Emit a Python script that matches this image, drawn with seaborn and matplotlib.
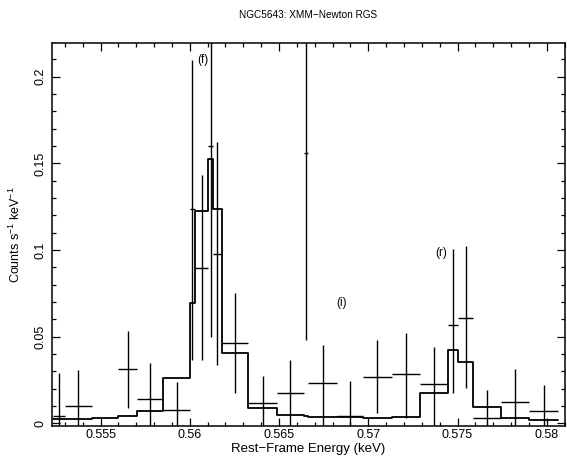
import numpy as np
import pandas as pd
import matplotlib
matplotlib.use("Agg")
import matplotlib.pyplot as plt
import seaborn as sns
from matplotlib.ticker import MultipleLocator, FixedLocator, FixedFormatter

# ---- data ----
model_edges = [0.55234, 0.55301, 0.55451, 0.55600, 0.55703, 0.55852, 0.56001,
               0.56029, 0.56104, 0.56129, 0.56179, 0.56328, 0.56487, 0.56640,
               0.56664, 0.56823, 0.56972, 0.57131, 0.57290, 0.57449, 0.57505,
               0.57585, 0.57742, 0.57901, 0.58065]
model_counts = [0.0023, 0.0023, 0.0033, 0.0044, 0.0073, 0.0260, 0.0692, 0.1227,
                0.1523, 0.1240, 0.0404, 0.0087, 0.0048, 0.0042, 0.0035, 0.0038,
                0.0029, 0.0038, 0.0173, 0.0423, 0.0356, 0.0096, 0.0029, 0.0019]

data_lo = [0.55234, 0.55301, 0.55600, 0.55703, 0.55852, 0.56001, 0.56029, 0.56104,
           0.56129, 0.56179, 0.56328, 0.56487, 0.56640, 0.56664, 0.56823, 0.56972,
           0.57131, 0.57290, 0.57449, 0.57505, 0.57585, 0.57742, 0.57901]
data_hi = [0.55301, 0.55451, 0.55703, 0.55852, 0.56001, 0.56029, 0.56104, 0.56129,
           0.56179, 0.56328, 0.56487, 0.56640, 0.56664, 0.56823, 0.56972, 0.57131,
           0.57290, 0.57449, 0.57505, 0.57585, 0.57742, 0.57901, 0.58065]
data_counts = [0.0040, 0.0101, 0.0313, 0.0140, 0.0078, 0.1240, 0.0899, 0.1600,
               0.0977, 0.0462, 0.0119, 0.0177, 0.1560, 0.0231, 0.0044, 0.0269,
               0.0285, 0.0227, 0.0570, 0.0610, 0.0029, 0.0125, 0.0071]
err_upper = [0.0290, 0.0309, 0.0535, 0.0347, 0.0241, 0.2096, 0.1433, 0.3000,
             0.1625, 0.0753, 0.0273, 0.0365, 0.3000, 0.0452, 0.0246, 0.0481,
             0.0523, 0.0442, 0.1004, 0.1025, 0.0192, 0.0312, 0.0221]
err_lower = [-0.003, -0.003, 0.0089, -0.003, -0.003, 0.0366, 0.0366, 0.0500,
             0.0337, 0.0176, -0.003, -0.003, 0.0480, -0.003, -0.003, 0.0058,
             0.0029, -0.003, 0.0173, 0.0206, -0.003, -0.003, -0.003]

xticks = [0.555, 0.56, 0.565, 0.57, 0.575, 0.58]
xtick_labels = ["0.555", "0.56", "0.565", "0.57", "0.575", "0.58"]
yticks = [0, 0.05, 0.1, 0.15, 0.2]
ytick_labels = ["0", "0.05", "0.1", "0.15", "0.2"]

line_labels = ["(f)", "(i)", "(r)"]
line_x = [0.56071, 0.56851, 0.57406]
line_y = [0.2095, 0.0693, 0.0981]

title = "NGC5643: XMM\u2212Newton RGS"
xlabel = "Rest\u2212Frame Energy (keV)"
ylabel = "Counts s$^{-1}$ keV$^{-1}$"

# ---- style ----
sns.set_theme(style="ticks")
plt.rcParams['font.family'] = ['Liberation Sans', 'DejaVu Sans']
plt.rcParams['mathtext.default'] = 'regular'
plt.rcParams['text.color'] = 'black'
plt.rcParams['axes.labelcolor'] = 'black'
plt.rcParams['xtick.color'] = 'black'
plt.rcParams['ytick.color'] = 'black'

W, H = 567, 457
fig = plt.figure(figsize=(W / 100, H / 100), dpi=100)
ax = fig.add_axes([52 / W, 31 / H, 513 / W, 383 / H])

# model (step)
df_model = pd.DataFrame({"E": model_edges,
                         "C": model_counts + [model_counts[-1]]})
sns.lineplot(data=df_model, x="E", y="C", drawstyle="steps-post",
             color="black", linewidth=1.3, estimator=None, sort=False, ax=ax)

# data with error bars
lo = np.array(data_lo)
hi = np.array(data_hi)
y = np.array(data_counts)
xc = (lo + hi) / 2
xerr = (hi - lo) / 2
yerr = np.vstack([y - np.array(err_lower), np.array(err_upper) - y])
ax.errorbar(xc, y, xerr=xerr, yerr=yerr, fmt="none", ecolor="black",
            elinewidth=1.0, capsize=0)

for lab, lx, ly in zip(line_labels, line_x, line_y):
    ax.text(lx, ly, lab, ha="center", va="center", fontsize=8.5, color="black")

ax.set_xlim(0.55228, 0.58102)
ax.set_ylim(-0.0015, 0.2195)
ax.set_xlabel("")
ax.set_ylabel("")

ax.xaxis.set_major_locator(FixedLocator(xticks))
ax.xaxis.set_major_formatter(FixedFormatter(xtick_labels))
ax.xaxis.set_minor_locator(MultipleLocator(0.001))
ax.yaxis.set_major_locator(FixedLocator(yticks))
ax.yaxis.set_major_formatter(FixedFormatter(ytick_labels))
ax.yaxis.set_minor_locator(MultipleLocator(0.01))

ax.tick_params(which="both", direction="in", top=True, right=True,
               color="black", width=0.9, labelcolor="black")
ax.tick_params(which="major", length=6, labelsize=9)
ax.tick_params(axis="x", which="major", pad=2.5)
ax.tick_params(axis="y", which="major", pad=4)
ax.tick_params(which="minor", length=3)
for lab in ax.get_yticklabels():
    lab.set_rotation(90)
    lab.set_va("center")
for s in ax.spines.values():
    s.set_color("black")
    s.set_linewidth(1.1)

fig.text(308.5 / W, 1 - 15 / H, title, ha="center", va="center", fontsize=7.2)
fig.text(308.5 / W, 1 - 449 / H, xlabel, ha="center", va="center", fontsize=9.5)
fig.text(15 / W, 1 - 235 / H, ylabel, ha="center", va="center", fontsize=9,
         rotation=90)

fig.savefig("out.png", dpi=100)
